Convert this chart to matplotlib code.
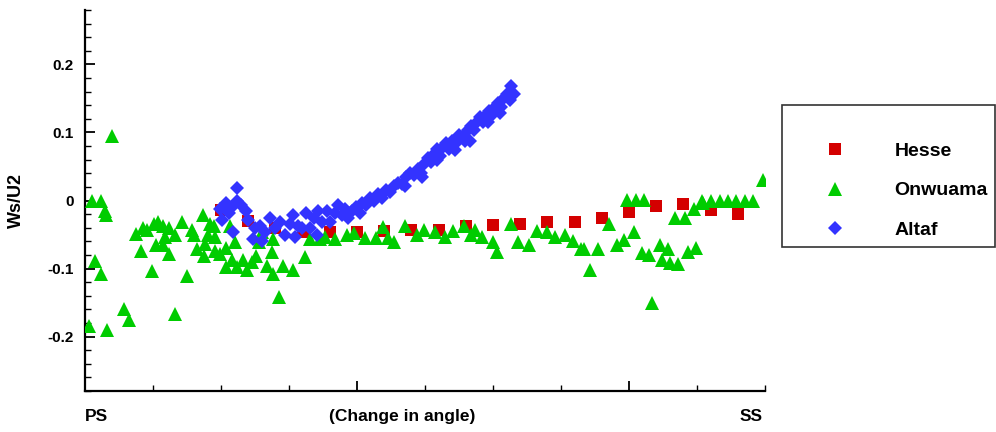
import matplotlib
matplotlib.use("Agg")
import matplotlib.pyplot as plt
import matplotlib.transforms as mtransforms
from matplotlib.patches import Rectangle
from matplotlib.ticker import MultipleLocator, FixedLocator

plt.rcParams["font.family"] = ["Liberation Sans", "DejaVu Sans"]
plt.rcParams["font.weight"] = "bold"

# Position along the blade surface (pressure side -> suction side), arbitrary units 0..10
hesse_x = [2.0, 2.4, 2.8, 3.2, 3.6, 4.0, 4.4, 4.8, 5.2, 5.6, 6.0, 6.4, 6.8,
           7.2, 7.6, 8.0, 8.4, 8.8, 9.2, 9.6]
hesse_y = [-0.014, -0.030, -0.040, -0.046, -0.046, -0.046, -0.045, -0.044,
           -0.043, -0.038, -0.036, -0.035, -0.031, -0.031, -0.025, -0.017,
           -0.008, -0.005, -0.014, -0.020]

onwuama_x = [0.06, 0.11, 0.15, 0.23, 0.23, 0.29, 0.31, 0.32, 0.39, 0.58,
             0.65, 0.75, 0.82, 0.85, 0.91, 0.98, 1.01, 1.05, 1.08, 1.15,
             1.15, 1.18, 1.23, 1.24, 1.32, 1.32, 1.42, 1.50, 1.58, 1.60,
             1.65, 1.74, 1.75, 1.76, 1.81, 1.84, 1.89, 1.91, 1.91, 1.99,
             2.08, 2.08, 2.13, 2.16, 2.21, 2.24, 2.33, 2.38, 2.45, 2.52,
             2.56, 2.60, 2.67, 2.75, 2.76, 2.77, 2.86, 2.91, 3.06, 3.23,
             3.31, 3.46, 3.53, 3.68, 3.85, 3.96, 4.12, 4.28, 4.38, 4.45,
             4.54, 4.71, 4.88, 4.98, 5.15, 5.30, 5.41, 5.57, 5.67, 5.74,
             5.84, 6.00, 6.06, 6.26, 6.37, 6.53, 6.64, 6.80, 6.91, 7.06,
             7.17, 7.29, 7.34, 7.43, 7.55, 7.71, 7.82, 7.93, 7.97, 8.07,
             8.11, 8.19, 8.22, 8.30, 8.34, 8.45, 8.48, 8.57, 8.60, 8.68,
             8.72, 8.82, 8.87, 8.95, 8.99, 9.07, 9.09, 9.20, 9.34, 9.46,
             9.58, 9.71, 9.82, 9.97]
onwuama_y = [-0.185, 0.000, -0.089, 0.000, -0.108, -0.016, -0.021, -0.190, 0.095, -0.159,
             -0.176, -0.049, -0.074, -0.040, -0.044, -0.104, -0.034, -0.065, -0.032, -0.037,
             -0.066, -0.054, -0.078, -0.040, -0.051, -0.167, -0.032, -0.111, -0.044, -0.050,
             -0.072, -0.021, -0.081, -0.064, -0.051, -0.035, -0.037, -0.054, -0.074, -0.078,
             -0.098, -0.070, -0.037, -0.088, -0.061, -0.098, -0.088, -0.102, -0.091, -0.081,
             -0.061, -0.047, -0.096, -0.076, -0.056, -0.108, -0.142, -0.096, -0.102, -0.083,
             -0.056, -0.056, -0.054, -0.056, -0.051, -0.048, -0.055, -0.055, -0.039, -0.055,
             -0.061, -0.037, -0.050, -0.043, -0.046, -0.054, -0.045, -0.037, -0.050, -0.044,
             -0.054, -0.061, -0.076, -0.035, -0.061, -0.066, -0.045, -0.047, -0.054, -0.051,
             -0.059, -0.072, -0.072, -0.102, -0.072, -0.034, -0.065, -0.058, 0.001, -0.047,
             0.001, -0.077, 0.001, -0.080, -0.151, -0.066, -0.087, -0.072, -0.092, -0.025,
             -0.094, -0.025, -0.076, -0.012, -0.070, 0.000, -0.004, 0.000, 0.000, 0.000,
             0.000, 0.000, 0.000, 0.030]

altaf_x = [1.99, 2.01, 2.07, 2.12, 2.16, 2.18, 2.24, 2.24, 2.29, 2.37,
           2.40, 2.47, 2.50, 2.57, 2.60, 2.65, 2.72, 2.79, 2.87, 2.94,
           3.01, 3.06, 3.09, 3.13, 3.19, 3.25, 3.31, 3.37, 3.41, 3.43,
           3.49, 3.56, 3.60, 3.68, 3.72, 3.78, 3.82, 3.87, 3.93, 3.99,
           4.04, 4.07, 4.13, 4.19, 4.25, 4.31, 4.37, 4.43, 4.49, 4.54,
           4.60, 4.66, 4.72, 4.78, 4.84, 4.90, 4.94, 4.99, 5.04, 5.09,
           5.13, 5.18, 5.22, 5.26, 5.31, 5.35, 5.40, 5.46, 5.50, 5.54,
           5.59, 5.63, 5.68, 5.72, 5.76, 5.81, 5.85, 5.90, 5.94, 5.99,
           6.03, 6.07, 6.12, 6.16, 6.21, 6.25, 6.26, 6.31,
           5.18, 5.44, 5.66, 5.93, 6.10, 4.70, 4.95]
altaf_y = [-0.013, -0.029, -0.004, -0.018, -0.010, -0.047, 0.019, 0.000, -0.007, -0.015,
           -0.029, -0.056, -0.041, -0.037, -0.059, -0.047, -0.026, -0.040, -0.032, -0.051,
           -0.034, -0.022, -0.054, -0.038, -0.040, -0.019, -0.040, -0.026, -0.051, -0.015,
           -0.031, -0.015, -0.032, -0.019, -0.007, -0.022, -0.012, -0.026, -0.015, -0.010,
           -0.018, -0.004, -0.006, 0.004, -0.001, 0.010, 0.004, 0.015, 0.012, 0.021,
           0.026, 0.024, 0.034, 0.041, 0.037, 0.047, 0.041, 0.054, 0.062, 0.056,
           0.069, 0.076, 0.065, 0.079, 0.084, 0.076, 0.088, 0.084, 0.096, 0.093,
           0.088, 0.103, 0.109, 0.103, 0.116, 0.122, 0.115, 0.126, 0.132, 0.126,
           0.137, 0.144, 0.138, 0.150, 0.156, 0.147, 0.168, 0.157,
           0.059, 0.074, 0.088, 0.115, 0.129, 0.022, 0.034]

series_names = ["Hesse", "Onwuama", "Altaf"]
bottom_labels = ["PS", "(Change in angle)", "SS"]
bottom_label_x = [0.0, 4.66, 9.97]

RED = "#d40000"
GREEN = "#00cc00"
BLUE = "#3333ff"

W, H = 996, 432
fig = plt.figure(figsize=(W / 100, H / 100), dpi=100)
ax = fig.add_axes([85 / W, 1 - 391 / H, 680 / W, 381 / H])

ax.plot(hesse_x, hesse_y, ls="none", marker="s", ms=8.0, mfc=RED, mec=RED,
        mew=0, color=RED, label=series_names[0], zorder=3)
ax.plot(onwuama_x, onwuama_y, ls="none", marker="^", ms=9.6, mfc=GREEN,
        mec=GREEN, mew=0, color=GREEN, label=series_names[1], zorder=4)
ax.plot(altaf_x, altaf_y, ls="none", marker="D", ms=7.4, mfc=BLUE, mec=BLUE,
        mew=0, color=BLUE, label=series_names[2], zorder=5)

ax.set_xlim(0, 10)
ax.set_ylim(-0.28, 0.28)

for side in ("top", "right"):
    ax.spines[side].set_visible(False)
for side in ("left", "bottom"):
    ax.spines[side].set_linewidth(1.6)
    ax.spines[side].set_color("black")

ax.yaxis.set_major_locator(FixedLocator([-0.2, -0.1, 0.0, 0.1, 0.2]))
ax.yaxis.set_minor_locator(MultipleLocator(0.02))
ax.set_yticklabels(["-0.2", "-0.1", "0", "0.1", "0.2"])
ax.xaxis.set_major_locator(FixedLocator([0, 4, 8]))
ax.xaxis.set_minor_locator(MultipleLocator(1))
ax.set_xticklabels([])

ax.tick_params(which="both", direction="in", color="black")
ax.tick_params(which="major", length=7.5, width=1.3)
ax.tick_params(which="minor", length=4.5, width=1.0)
ax.tick_params(axis="y", which="major", labelsize=11, pad=8)

ax.set_ylabel("Ws/U2", fontsize=13, fontweight="bold")
ax.yaxis.set_label_coords(-0.088, 0.5)

trans = mtransforms.blended_transform_factory(ax.transData, ax.transAxes)
aligns = ["left", "center", "right"]
for lbl, xpos, ha in zip(bottom_labels, bottom_label_x, aligns):
    ax.text(xpos, -0.068, lbl, transform=trans, ha=ha, va="center",
            fontsize=12.5, fontweight="bold", clip_on=False)

# Legend box drawn as a separate rectangle so the entries can sit lower inside it
fig.patches.append(Rectangle((781.5 / W, 1 - 247.5 / H), 213.5 / W, 142 / H,
                             transform=fig.transFigure, fill=True,
                             facecolor="white", edgecolor="#333333",
                             linewidth=1.2, zorder=1))
leg = fig.legend(loc="upper left",
                 bbox_to_anchor=(781.5 / W, 1 - 122.5 / H),
                 borderaxespad=0.0,
                 prop={"size": 14, "weight": "bold"},
                 handlelength=3.5, handletextpad=1.3, borderpad=1.0,
                 labelspacing=1.14, frameon=False, markerscale=1.0)
leg.set_zorder(2)

fig.savefig("out.png", dpi=100)
